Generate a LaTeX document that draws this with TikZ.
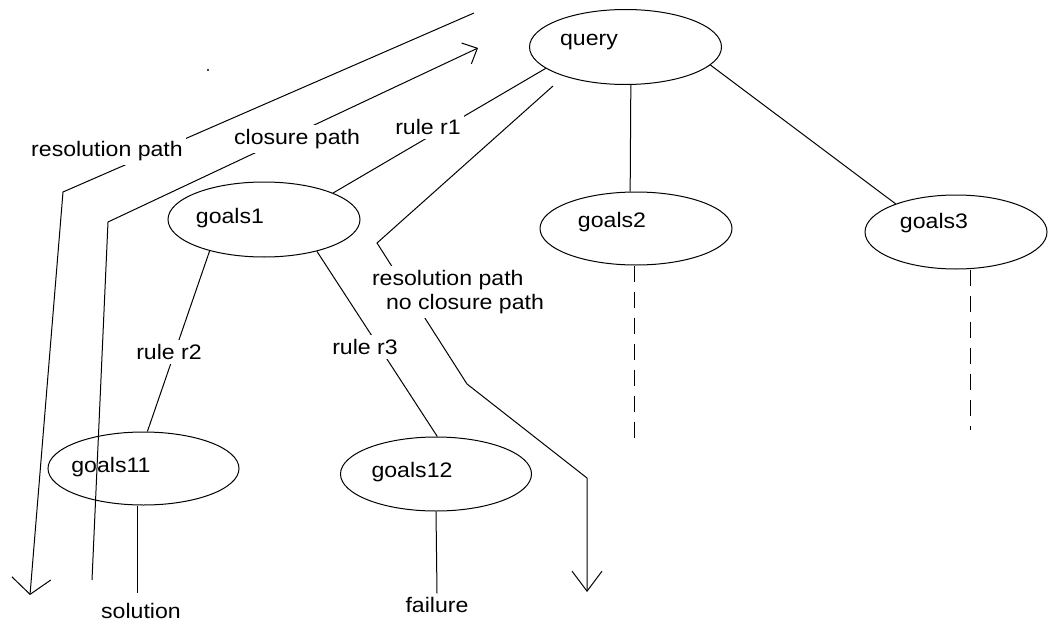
\documentclass[tikz,border=0pt]{standalone}
\usepackage{fontspec}
\setmainfont{Liberation Sans}[FakeStretch=1.1]
\usetikzlibrary{shapes.geometric,arrows.meta}
\begin{document}
\begin{tikzpicture}[x=1pt,y=-1pt,line width=1pt,
  every node/.style={font=\fontsize{21}{24}\selectfont},
  goal/.style={draw,ellipse,inner sep=0pt,minimum width=192pt,minimum height=75pt},
  gtext/.style={inner sep=0pt},
  lbl/.style={fill=white,inner xsep=3pt,inner ysep=4pt},
  barb/.style 2 args={-{Straight Barb[length=#1,width=#2]}},
  dashline/.style={dash pattern=on 16pt off 10pt}]
\useasboundingbox (0,0) rectangle (1048,623);

% goal nodes of the search tree
\node[goal] (query) at (625.5,47) {};
\node[goal,minimum height=73pt] (goals2) at (636,228.5) {};
\node[goal,minimum width=182pt,minimum height=74pt] (goals3) at (956,232) {};
\node[goal] (goals1) at (264,219.5) {};
\node[goal,minimum width=191pt,minimum height=73pt] (goals11) at (143.5,468.5) {};
\node[goal,minimum width=191pt,minimum height=74pt] (goals12) at (436,474) {};

% their names, set towards the left of each ellipse
\node[gtext] (queryt) at (589,42) {query};
\node[gtext] (goals2t) at (612,222) {goals2};
\node[gtext] (goals3t) at (934,223) {goals3};
\node[gtext] (goals1t) at (230,218) {goals1};
\node[gtext] (goals11t) at (111,467) {goals11};
\node[gtext] (goals12t) at (412,472) {goals12};

% leaves
\node (sol) at (141,611) {solution};
\node (fail) at (437,605) {failure};

% tree edges
\draw (query.195) -- (goals1.21);
\draw (query.278) -- (goals2.99.5);
\draw (query.348) -- (goals3.155);
\draw (goals1.210) -- (goals11.84);
\draw (goals1.329) -- (goals12.88);
\coordinate (sl) at (137,593);
\draw (goals11.south -| sl) -- (sl);
\draw (goals12.south) -- (fail.north);

% unexplored subtrees
\coordinate (g2end) at (634,438);
\coordinate (g3end) at (970,430);
\draw[dashline] (goals2.south -| g2end) -- (g2end);
\draw[dashline] (goals3.south -| g3end) -- (g3end);

% resolution path (down the left branch)
\coordinate (rtop) at (474,13);
\coordinate (rbend) at (63,192);
\coordinate (rtip) at (30,595);
\draw[barb={16pt}{39pt}] (rtop) -- (rbend) -- (rtip);

% closure path (back up to the query)
\coordinate (ctail) at (92,580);
\coordinate (cbend) at (108,222);
\coordinate (ctip) at (478,48);
\draw[barb={12pt}{23pt}] (ctail) -- (cbend) -- (ctip);

% resolution path without closure (through goals12)
\coordinate (nstart) at (553,86);
\coordinate (nb1) at (377,243);
\coordinate (nb2) at (467,384);
\coordinate (nb3) at (587,478);
\coordinate (ntip) at (587,592);
\draw[barb={20pt}{30pt}] (nstart) -- (nb1) -- (nb2) -- (nb3) -- (ntip);

% small dot
\fill (208,70) circle (1.2pt);

% labels over the lines
\node[lbl] (lres) at (107,151) {resolution path};
\node[lbl] (lclo) at (297,139) {closure path};
\node[lbl] (lr1) at (428,127) {rule r1};
\node[lbl] (lr2) at (169,352) {rule r2};
\node[lbl] (lr3) at (365,347) {rule r3};
\node[lbl,align=left] (lnocl) at (458,292) {resolution path\\\hspace*{14pt}no closure path};
\end{tikzpicture}
\end{document}
